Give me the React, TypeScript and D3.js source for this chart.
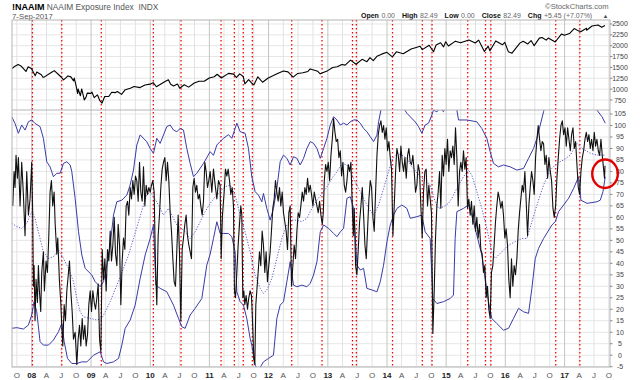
import React from "react";
import * as d3 from "d3";

// ---------- DATA ----------
const headerSymbol = "!NAAIM";
const headerName = "NAAIM Exposure Index  INDX";
const headerDate = "7-Sep-2017";
const quoteLabels = ["Open", "High", "Low", "Close", "Chg"];
const quoteValues = ["0.00", "82.49", "0.00", "82.49", "+5.45 (+7.07%)"];

const spxTicks = [750, 1000, 1250, 1500, 1750, 2000, 2250, 2500];
const naaimTicks = [-5, 0, 5, 10, 15, 20, 25, 30, 35, 40, 45, 50, 55, 60, 65, 70, 75, 80, 85, 90, 95, 100, 105];
const monthLetters: Record<number, string> = { 3: "A", 6: "J", 9: "O" };

const signalDates = [
  "2008-01-05", "2008-07-04", "2009-03-05", "2010-01-20", "2010-07-10", "2011-03-14",
  "2011-06-04", "2011-07-29", "2011-09-23", "2012-05-23", "2012-11-26", "2013-06-02",
  "2013-06-26", "2014-02-04", "2014-08-07", "2014-10-06", "2015-05-14", "2015-09-01",
  "2015-10-04", "2016-11-07", "2017-04-05",
];

const spx: [string, number][] = [
  ["2007-09-01", 1474], ["2007-09-19", 1529], ["2007-10-09", 1565], ["2007-10-26", 1535], ["2007-11-26", 1407],
  ["2007-12-10", 1515], ["2007-12-31", 1468], ["2008-01-22", 1310], ["2008-02-01", 1395], ["2008-02-29", 1330],
  ["2008-03-10", 1273], ["2008-03-17", 1276], ["2008-04-30", 1385], ["2008-05-19", 1426], ["2008-06-30", 1280],
  ["2008-07-15", 1214], ["2008-07-31", 1267], ["2008-08-11", 1305], ["2008-08-29", 1283], ["2008-09-15", 1192],
  ["2008-09-19", 1255], ["2008-09-29", 1106], ["2008-10-10", 899], ["2008-10-13", 1003], ["2008-10-27", 848],
  ["2008-11-04", 1005], ["2008-11-20", 752], ["2008-12-01", 816], ["2008-12-08", 909], ["2008-12-31", 903],
  ["2009-01-06", 935], ["2009-01-20", 805], ["2009-02-09", 870], ["2009-02-23", 743], ["2009-03-09", 677],
  ["2009-03-26", 832], ["2009-04-20", 832], ["2009-05-08", 929], ["2009-05-29", 919], ["2009-06-12", 946],
  ["2009-07-08", 880], ["2009-07-31", 987], ["2009-08-31", 1021], ["2009-09-23", 1061], ["2009-10-30", 1036],
  ["2009-11-30", 1096], ["2009-12-31", 1115], ["2010-01-19", 1150], ["2010-02-08", 1056], ["2010-03-31", 1169],
  ["2010-04-23", 1217], ["2010-05-07", 1111], ["2010-05-25", 1074], ["2010-06-18", 1117], ["2010-07-02", 1022],
  ["2010-07-30", 1102], ["2010-08-26", 1047], ["2010-09-30", 1141], ["2010-10-29", 1183], ["2010-11-30", 1181],
  ["2010-12-31", 1258], ["2011-01-31", 1286], ["2011-02-18", 1343], ["2011-03-16", 1257], ["2011-04-29", 1364],
  ["2011-05-31", 1345], ["2011-06-16", 1268], ["2011-07-07", 1353], ["2011-07-29", 1292], ["2011-08-08", 1119],
  ["2011-08-31", 1219], ["2011-09-22", 1129], ["2011-10-03", 1099], ["2011-10-27", 1285], ["2011-11-25", 1159],
  ["2011-12-30", 1258], ["2012-01-31", 1312], ["2012-02-29", 1366], ["2012-04-02", 1419], ["2012-04-30", 1398],
  ["2012-06-01", 1278], ["2012-06-29", 1362], ["2012-07-31", 1379], ["2012-08-31", 1407], ["2012-09-14", 1466],
  ["2012-10-31", 1412], ["2012-11-15", 1353], ["2012-12-31", 1426], ["2013-01-31", 1498], ["2013-02-28", 1515],
  ["2013-03-28", 1569], ["2013-04-18", 1553], ["2013-05-21", 1669], ["2013-06-24", 1573], ["2013-07-31", 1686],
  ["2013-08-30", 1633], ["2013-09-18", 1725], ["2013-10-08", 1656], ["2013-10-31", 1757], ["2013-11-29", 1806],
  ["2013-12-31", 1848], ["2014-02-03", 1742], ["2014-02-28", 1859], ["2014-04-11", 1815], ["2014-05-30", 1924],
  ["2014-06-30", 1960], ["2014-07-24", 1988], ["2014-08-07", 1910], ["2014-09-18", 2011], ["2014-10-15", 1862],
  ["2014-10-31", 2018], ["2014-11-28", 2068], ["2014-12-16", 1973], ["2014-12-29", 2091], ["2015-01-15", 1993],
  ["2015-02-27", 2105], ["2015-03-31", 2068], ["2015-05-21", 2131], ["2015-06-30", 2063], ["2015-07-20", 2129],
  ["2015-08-25", 1867], ["2015-09-17", 1990], ["2015-09-28", 1882], ["2015-11-03", 2110], ["2015-12-14", 2021],
  ["2015-12-29", 2078], ["2016-01-20", 1859], ["2016-02-11", 1829], ["2016-03-31", 2060], ["2016-04-20", 2102],
  ["2016-05-19", 2040], ["2016-06-08", 2119], ["2016-06-27", 2001], ["2016-07-29", 2174], ["2016-08-15", 2190],
  ["2016-09-09", 2128], ["2016-09-22", 2177], ["2016-11-04", 2085], ["2016-12-13", 2271], ["2016-12-30", 2239],
  ["2017-01-31", 2279], ["2017-03-01", 2396], ["2017-03-27", 2342], ["2017-04-13", 2329], ["2017-05-16", 2400],
  ["2017-05-17", 2357], ["2017-06-19", 2453], ["2017-07-26", 2478], ["2017-08-18", 2426], ["2017-09-07", 2465],
];

// [decimal year, exposure]
const naaim: [number, number][] = [
  [2007.678,65],[2007.701,80],[2007.717,73],[2007.734,87],[2007.757,77],[2007.774,86],[2007.802,65],[2007.830,84],[2007.858,70],[2007.886,52],[2007.915,80],[2007.943,61],[2007.971,68],[2007.999,84],[2008.016,61],[2008.027,30],[2008.039,39],[2008.055,15],[2008.072,33],[2008.095,23],[2008.112,39],[2008.129,28],[2008.151,19],[2008.168,36],[2008.196,45],[2008.213,28],[2008.241,41],[2008.264,36],[2008.286,51],[2008.309,71],[2008.331,76],[2008.354,65],[2008.377,71],[2008.393,58],[2008.422,44],[2008.438,51],[2008.467,32],[2008.489,23],[2008.506,13],[2008.523,4],[2008.546,22],[2008.568,15],[2008.591,28],[2008.619,36],[2008.636,41],[2008.658,28],[2008.681,19],[2008.703,7],[2008.731,10],[2008.760,-4],[2008.782,7],[2008.805,13],[2008.827,4],[2008.850,16],[2008.872,7],[2008.895,13],[2008.917,4],[2008.940,9],[2008.962,22],[2008.985,28],[2009.007,19],[2009.030,28],[2009.053,23],[2009.075,20],[2009.098,25],[2009.120,31],[2009.143,7],[2009.165,1.5],[2009.188,46],[2009.210,33],[2009.233,42],[2009.255,28],[2009.278,46],[2009.300,41],[2009.323,54],[2009.345,41],[2009.368,48],[2009.391,60],[2009.413,44],[2009.436,39],[2009.458,57],[2009.481,48],[2009.503,22],[2009.526,41],[2009.548,51],[2009.571,46],[2009.593,65],[2009.616,67],[2009.638,61],[2009.661,73],[2009.683,68],[2009.706,76],[2009.728,70],[2009.751,78],[2009.773,76],[2009.796,67],[2009.819,84],[2009.841,71],[2009.864,67],[2009.886,82],[2009.909,65],[2009.931,74],[2009.954,70],[2009.976,73],[2009.999,71],[2010.021,74],[2010.044,76],[2010.066,71],[2010.089,39],[2010.111,22],[2010.134,52],[2010.156,61],[2010.179,73],[2010.202,81],[2010.224,84],[2010.247,86],[2010.269,76],[2010.292,84],[2010.314,76],[2010.337,62],[2010.359,54],[2010.382,42],[2010.404,32],[2010.427,30],[2010.450,46],[2010.472,61],[2010.495,44],[2010.517,15],[2010.540,46],[2010.562,51],[2010.585,57],[2010.607,61],[2010.630,52],[2010.652,48],[2010.675,45],[2010.697,42],[2010.720,73],[2010.742,77],[2010.765,71],[2010.787,74],[2010.810,68],[2010.833,70],[2010.855,65],[2010.878,61],[2010.900,67],[2010.923,84],[2010.945,80],[2010.968,73],[2010.990,76],[2011.013,80],
  [2011.041,71],[2011.069,81],[2011.098,74],[2011.126,68],[2011.154,76],[2011.182,74],[2011.199,42],[2011.221,61],[2011.250,71],[2011.272,81],[2011.295,78],[2011.317,81],[2011.340,76],[2011.362,70],[2011.385,73],[2011.407,65],[2011.424,28],[2011.441,25],[2011.464,36],[2011.486,48],[2011.509,57],[2011.531,65],[2011.548,61],[2011.565,25],[2011.582,28],[2011.599,22],[2011.621,26],[2011.644,20],[2011.666,25],[2011.689,28],[2011.711,26],[2011.728,16],[2011.751,-1.5],[2011.768,-4],[2011.785,22],[2011.802,28],[2011.824,36],[2011.847,45],[2011.869,39],[2011.892,54],[2011.914,48],[2011.937,36],[2011.959,45],[2011.982,32],[2012.004,39],[2012.027,45],[2012.049,54],[2012.072,64],[2012.095,68],[2012.117,76],[2012.140,71],[2012.162,67],[2012.185,73],[2012.207,65],[2012.230,71],[2012.252,62],[2012.275,58],[2012.297,54],[2012.320,46],[2012.342,62],[2012.365,65],[2012.387,30],[2012.410,39],[2012.432,48],[2012.455,42],[2012.478,54],[2012.500,62],[2012.523,60],[2012.545,65],[2012.568,71],[2012.590,67],[2012.613,73],[2012.635,70],[2012.658,77],[2012.680,71],[2012.703,74],[2012.725,70],[2012.748,65],[2012.771,71],[2012.793,68],[2012.816,65],[2012.838,62],[2012.861,67],[2012.883,61],[2012.906,57],[2012.923,62],[2012.940,76],[2012.962,83],[2012.985,80],[2013.007,84],[2013.030,76],[2013.052,87],[2013.075,94],[2013.097,103],[2013.120,97],[2013.142,93],[2013.165,94],[2013.187,86],[2013.210,89],[2013.232,78],[2013.255,84],[2013.277,74],[2013.300,71],[2013.323,76],[2013.345,83],[2013.368,80],[2013.390,84],[2013.413,65],[2013.430,52],[2013.446,64],[2013.469,39],[2013.491,35],[2013.514,46],[2013.536,58],[2013.559,65],[2013.582,73],[2013.604,61],[2013.627,48],[2013.649,42],[2013.672,55],[2013.694,68],[2013.717,76],[2013.739,73],[2013.762,60],[2013.784,54],[2013.807,71],[2013.830,87],[2013.852,96],[2013.875,100],[2013.897,102],[2013.920,97],[2013.942,100],[2013.965,94],[2013.987,99],[2014.010,89],[2014.032,93],[2014.055,86],[2014.077,81],[2014.100,52],[2014.122,65],[2014.145,80],[2014.167,90],[2014.190,87],[2014.213,80],[2014.235,91],[2014.258,84],[2014.280,80],[2014.303,86],[2014.325,77],[2014.348,87],[2014.370,90],[2014.393,84],
  [2014.415,83],[2014.437,87],[2014.460,80],[2014.482,71],[2014.505,74],[2014.527,83],[2014.550,80],[2014.572,65],[2014.595,51],[2014.617,71],[2014.640,80],[2014.662,81],[2014.685,65],[2014.707,74],[2014.730,68],[2014.752,62],[2014.775,9.5],[2014.798,28],[2014.820,51],[2014.843,65],[2014.865,71],[2014.888,80],[2014.910,64],[2014.933,87],[2014.955,78],[2014.978,90],[2015.000,83],[2015.023,94],[2015.045,80],[2015.068,89],[2015.090,86],[2015.113,91],[2015.136,83],[2015.158,99],[2015.181,86],[2015.203,65],[2015.226,80],[2015.248,84],[2015.271,80],[2015.293,89],[2015.316,81],[2015.338,86],[2015.361,64],[2015.383,68],[2015.406,61],[2015.428,67],[2015.451,57],[2015.474,65],[2015.496,54],[2015.519,60],[2015.541,51],[2015.564,57],[2015.586,46],[2015.609,44],[2015.631,36],[2015.654,39],[2015.676,25],[2015.699,30],[2015.721,20],[2015.744,16],[2015.766,36],[2015.789,39],[2015.811,48],[2015.834,58],[2015.856,65],[2015.879,71],[2015.902,68],[2015.924,64],[2015.947,67],[2015.969,61],[2015.992,51],[2016.014,55],[2016.037,48],[2016.059,33],[2016.082,25],[2016.104,42],[2016.127,30],[2016.149,39],[2016.172,35],[2016.195,42],[2016.217,54],[2016.240,62],[2016.262,68],[2016.285,74],[2016.307,71],[2016.330,80],[2016.352,67],[2016.375,52],[2016.397,65],[2016.420,73],[2016.442,80],[2016.465,76],[2016.487,70],[2016.510,86],[2016.533,94],[2016.555,100],[2016.578,94],[2016.600,89],[2016.623,93],[2016.645,92],[2016.668,83],[2016.690,87],[2016.713,77],[2016.735,86],[2016.758,80],[2016.780,76],[2016.803,64],[2016.825,60],[2016.848,65],[2016.870,77],[2016.893,86],[2016.915,94],[2016.938,100],[2016.961,102],[2016.983,96],[2017.006,99],[2017.028,91],[2017.051,99],[2017.073,94],[2017.096,89],[2017.118,96],[2017.141,99],[2017.163,90],[2017.186,93],[2017.208,83],[2017.231,73],[2017.253,70],[2017.276,80],[2017.299,86],[2017.321,89],[2017.344,94],[2017.366,97],[2017.389,93],[2017.411,96],[2017.434,90],[2017.456,94],[2017.479,89],[2017.501,97],[2017.524,91],[2017.546,94],[2017.569,89],[2017.591,87],[2017.614,94],[2017.636,87],[2017.659,81],[2017.674,77],[2017.683,82.5],
];

const upperBand: [number, number][] = [
  [2007.661,103.8],[2007.717,100.9],[2007.774,96.6],[2007.830,100.2],[2007.887,98],[2007.943,101.6],[2007.999,102.4],[2008.055,100.9],[2008.140,99.5],[2008.196,94.4],[2008.253,84.2],[2008.309,82],[2008.365,77.7],[2008.422,79.2],[2008.478,79.2],[2008.534,83.5],[2008.591,84.2],[2008.647,82.8],[2008.675,79.9],[2008.731,68.3],[2008.788,53.8],[2008.844,43.6],[2008.900,37.8],[2009.013,34.9],[2009.069,32],[2009.154,29.8],[2009.210,32],[2009.266,39.2],[2009.323,48],[2009.379,61],[2009.435,66.8],[2009.520,67.5],[2009.604,69.7],[2009.661,74.1],[2009.717,80.6],[2009.773,91.5],[2009.830,95.9],[2009.942,92.9],[2009.999,90],[2010.055,87.9],[2010.111,94.4],[2010.168,92.2],[2010.224,95.9],[2010.280,99.5],[2010.337,100.2],[2010.393,98],[2010.449,97.3],[2010.506,98.7],[2010.562,98],[2010.618,90],[2010.675,83.5],[2010.731,77.7],[2010.787,79.2],[2010.900,83.5],[2011.013,88.6],
  [2011.069,87],[2011.126,91.5],[2011.182,93],[2011.238,94.4],[2011.323,96],[2011.379,94.4],[2011.435,98.7],[2011.464,101],[2011.520,97.3],[2011.604,96.6],[2011.661,90],[2011.717,77.7],[2011.773,71.2],[2011.830,69.7],[2011.886,66.8],[2011.914,70.4],[2011.971,63.9],[2012.027,58.8],[2012.083,63.9],[2012.140,72.6],[2012.196,84.2],[2012.252,87.1],[2012.309,85.7],[2012.365,82.8],[2012.421,86.4],[2012.478,85.7],[2012.534,82.8],[2012.590,85.7],[2012.646,90],[2012.703,93],[2012.759,92.2],[2012.816,90],[2012.872,85.7],[2012.928,90],[2012.985,94.4],[2013.041,100.2],[2013.097,103.8],[2013.154,102.4],[2013.210,100.2],[2013.266,101],[2013.323,100.2],[2013.379,101.6],[2013.435,102.4],[2013.492,102.4],[2013.548,101],[2013.604,98.7],[2013.660,97.3],[2013.717,95.1],[2013.773,93],[2013.830,95.8],[2013.858,101.6],[2013.897,106.7],[2013.970,112],[2014.168,112],[2014.336,105.3],[2014.393,103.8],
  [2014.476,101.6],[2014.533,99.5],[2014.589,96.6],[2014.645,100.2],[2014.702,101],[2014.758,104.5],[2014.786,106.7],[2014.843,106],[2014.899,107.4],[2014.955,106],[2015.012,110.4],[2015.124,110.4],[2015.181,106.7],[2015.209,102.4],[2015.350,102.4],[2015.519,101.6],[2015.603,98.7],[2015.688,94.4],[2015.744,88.6],[2015.800,83.5],[2015.885,82],[2015.969,82.8],[2016.082,82],[2016.195,80.6],[2016.307,81.3],[2016.392,85.7],[2016.476,90],[2016.533,94.4],[2016.589,100.2],[2016.645,106],[2016.702,112],[2017.490,112],[2017.546,106.7],[2017.631,103.8],[2017.687,101],
];

const middleBand: [number, number][] = [
  [2007.661,57.4],[2007.746,56],[2007.830,55.2],[2007.915,57.4],[2007.999,62.5],[2008.055,59.6],[2008.140,50.8],[2008.196,45],[2008.281,42.1],[2008.365,42.9],[2008.450,45.8],[2008.534,42.1],[2008.619,37.8],[2008.703,32],[2008.760,24.7],[2008.816,18.9],[2008.872,16.7],[2008.985,16],[2009.098,15.3],[2009.182,16],[2009.238,18.9],[2009.323,23.3],[2009.436,30.5],[2009.548,37.8],[2009.633,43.6],[2009.717,50.8],[2009.802,58.1],[2009.886,65.4],[2009.942,69.7],[2009.999,71.2],[2010.055,69],[2010.140,65.4],[2010.224,61],[2010.309,63.9],[2010.393,59.6],[2010.450,56.7],[2010.534,55.2],[2010.590,53.7],[2010.675,50.8],[2010.759,53.7],[2010.844,58.1],[2010.928,62.5],[2011.013,66],
  [2011.097,69],[2011.182,71.2],[2011.266,73.3],[2011.351,74.1],[2011.435,69.7],[2011.520,61],[2011.604,53.7],[2011.689,45],[2011.773,34.9],[2011.858,29.1],[2011.914,26.9],[2011.971,28.4],[2012.055,33.4],[2012.140,42.1],[2012.224,50.8],[2012.309,56.7],[2012.393,58.8],[2012.478,58.8],[2012.562,58.1],[2012.646,59.6],[2012.731,63.9],[2012.816,67.5],[2012.900,70.4],[2012.985,73.3],[2013.069,77],[2013.154,79.9],[2013.238,83.5],[2013.323,82.8],[2013.379,79.9],[2013.435,77],[2013.520,72.6],[2013.604,68.3],[2013.689,63.9],[2013.773,61],[2013.858,65.4],[2013.942,72.6],[2014.027,79.9],[2014.083,85],[2014.168,87.9],[2014.252,87.1],[2014.336,85.7],[2014.421,82],
  [2014.561,77.7],[2014.730,74.1],[2014.815,66.8],[2014.871,63.9],[2014.955,64.6],[2015.040,66.1],[2015.096,68.3],[2015.181,72.6],[2015.293,77.7],[2015.378,80.6],[2015.434,78.4],[2015.519,71.2],[2015.603,63.9],[2015.688,55.2],[2015.772,45],[2015.828,42.1],[2015.941,45],[2016.054,47.9],[2016.166,49.4],[2016.279,50.8],[2016.364,50.8],[2016.448,58.1],[2016.533,65.4],[2016.645,74.1],[2016.758,80.6],[2016.870,83.5],[2016.983,85],[2017.096,87.1],[2017.209,92.2],[2017.293,90],[2017.434,87.9],[2017.546,87.1],[2017.687,87.1],
];

const lowerBand: [number, number][] = [
  [2007.661,11.7],[2007.746,12],[2007.858,11.4],[2007.943,13.1],[2007.999,17.5],[2008.039,23.3],[2008.084,18.9],[2008.140,5.9],[2008.196,4.4],[2008.281,4.4],[2008.365,6.6],[2008.450,10.2],[2008.506,13.8],[2008.546,5.9],[2008.602,-1.4],[2008.675,-3.6],[2008.760,-3.6],[2008.844,-2.9],[2008.929,-2.9],[2009.041,0],[2009.154,1.5],[2009.210,-2.9],[2009.266,-3.6],[2009.379,-2.9],[2009.464,-1.4],[2009.520,4.4],[2009.576,11.7],[2009.661,15.3],[2009.745,21.8],[2009.830,33.4],[2009.914,43.6],[2009.999,50.8],[2010.055,56.7],[2010.095,30.5],[2010.168,29.1],[2010.280,27.6],[2010.393,21.8],[2010.478,16],[2010.534,12.4],[2010.590,11.7],[2010.675,17.5],[2010.759,20.4],[2010.872,24.7],[2010.956,39.2],[2011.013,44],
  [2011.069,50.8],[2011.126,58.1],[2011.182,53],[2011.238,53],[2011.323,53],[2011.379,51.6],[2011.435,45],[2011.464,27.6],[2011.520,23.3],[2011.576,21.8],[2011.632,16],[2011.689,7.3],[2011.717,4.4],[2011.745,0],[2011.773,-4.3],[2011.830,-6.5],[2011.914,-2.9],[2011.999,-1.4],[2012.083,0],[2012.140,16],[2012.196,21.8],[2012.252,23.3],[2012.309,32],[2012.365,40.7],[2012.421,30.5],[2012.478,29.8],[2012.562,30.5],[2012.646,29.8],[2012.703,31.3],[2012.759,34.9],[2012.816,40.7],[2012.872,53.7],[2012.928,56.7],[2013.013,55.2],[2013.097,53],[2013.154,51.6],[2013.210,53.7],[2013.266,55.2],[2013.323,68.3],[2013.379,69],[2013.435,63.9],[2013.492,39.2],[2013.548,37.1],[2013.604,37.8],[2013.660,29.1],[2013.745,28.4],[2013.830,27.6],[2013.886,32],[2013.942,39.2],[2013.999,49.4],[2014.055,56.7],[2014.111,61],[2014.168,63.9],[2014.252,65.4],[2014.336,63.9],[2014.393,59.6],
  [2014.505,60.3],[2014.589,61],[2014.645,53.7],[2014.730,50.8],[2014.775,24.7],[2014.843,22.5],[2014.955,23.3],[2015.068,24.7],[2015.124,26.2],[2015.152,50.8],[2015.181,62.5],[2015.293,63.9],[2015.378,65.4],[2015.434,61],[2015.519,52.3],[2015.603,43.6],[2015.659,33.4],[2015.716,23.3],[2015.772,16],[2015.856,13.8],[2015.969,10.9],[2016.054,11.7],[2016.138,16],[2016.223,20.4],[2016.307,18.9],[2016.392,18.2],[2016.448,29.1],[2016.505,42.1],[2016.561,46.5],[2016.645,50.8],[2016.786,56.7],[2016.842,58.1],[2016.899,62.5],[2016.983,65.4],[2017.068,68.3],[2017.152,72.6],[2017.237,77.7],[2017.276,67.5],[2017.378,66.1],[2017.546,66.8],[2017.603,67.5],[2017.648,71.2],[2017.687,77.7],
];

// annotation: circle around latest reading
const highlightYear = 2017.683;
const highlightValue = 79;

// ---------- HELPERS ----------
function decYear(y: number): Date {
  const yr = Math.floor(y);
  const s = new Date(yr, 0, 1).getTime();
  const e = new Date(yr + 1, 0, 1).getTime();
  return new Date(s + (y - yr) * (e - s));
}
const parse = d3.timeParse("%Y-%m-%d");

const W = 640, H = 380;
const L = 12, R = 610;
const T1 = 20, B1 = 110, T2 = 110, B2 = 367;
const FONT = "Liberation Sans, Arial, Helvetica, sans-serif";

export default function App() {
  const x = d3.scaleTime().domain([new Date(2007, 8, 1), new Date(2017, 9, 8)]).range([L, R]);
  const y1 = d3.scaleLinear().domain([520, 2592]).range([B1, T1]);
  const y2 = d3.scaleLinear().domain([-5.13, 106.74]).range([B2, T2]);

  const spxLine = d3.line<[string, number]>().x(d => x(parse(d[0]) as Date)).y(d => y1(d[1]));
  const yrLine = d3.line<[number, number]>().x(d => x(decYear(d[0]))).y(d => y2(d[1]));

  const quarters = d3.timeMonth.every(3)!.range(new Date(2007, 8, 1), new Date(2017, 9, 8));

  return (
    <svg width={W} height={H} style={{ position: "absolute", left: 0, top: 0, background: "#fff" }} fontFamily={FONT}>
      <defs>
        <clipPath id="c1"><rect x={L} y={T1} width={R - L} height={B1 - T1} /></clipPath>
        <clipPath id="c2"><rect x={L} y={T2} width={R - L} height={B2 - T2} /></clipPath>
      </defs>
      <rect x={0} y={0} width={W} height={H} fill="#fff" />

      {/* header */}
      <text x={12} y={9.5} fontSize={9} fontWeight="bold" fill="#000">{headerSymbol}</text>
      <text x={46.7} y={9.5} fontSize={8.4} fill="#555" style={{ whiteSpace: "pre" }}>{headerName}</text>
      <text x={12} y={18.5} fontSize={7.8} fill="#555">{headerDate}</text>
      <text x={608.5} y={8.6} fontSize={7.6} fill="#666" textAnchor="end">©StockCharts.com</text>
      <text x={361} y={18.3} fontSize={7} fill="#666">
        {quoteLabels.map((q, i) => (
          <React.Fragment key={q}>
            <tspan dx={i === 0 ? 0 : 7} fontWeight="bold" fill="#111">{q}</tspan>
            <tspan dx={2.5}>{quoteValues[i]}</tspan>
          </React.Fragment>
        ))}
      </text>
      <text x={605.5} y={18} fontSize={5.5} fill="#444" textAnchor="middle">▲</text>

      {/* grid */}
      {spxTicks.map(t => (
        <line key={"g1" + t} x1={L} x2={R} y1={y1(t)} y2={y1(t)} stroke="#e6e6e6" strokeWidth={1} />
      ))}
      {naaimTicks.map(t => (
        <line key={"g2" + t} x1={L} x2={R} y1={y2(t)} y2={y2(t)} stroke="#e6e6e6" strokeWidth={1} />
      ))}
      {quarters.map(d => (
        <line key={"v" + d.getTime()} x1={x(d)} x2={x(d)} y1={T1} y2={B2}
          stroke={d.getMonth() === 0 ? "#c4c4c4" : "#e2e2e2"} strokeWidth={1} />
      ))}

      {/* signal lines */}
      {signalDates.map(s => {
        const xx = x(parse(s) as Date);
        return <line key={s} x1={xx} x2={xx} y1={T1} y2={B2} stroke="#ff0000" strokeWidth={1.3} strokeDasharray="1.6,2.4" />;
      })}

      {/* top panel: S&P 500 */}
      <g clipPath="url(#c1)">
        <path d={spxLine(spx) || ""} fill="none" stroke="#000" strokeWidth={1.1} strokeLinejoin="round" />
      </g>

      {/* bottom panel */}
      <g clipPath="url(#c2)">
        <path d={yrLine(middleBand) || ""} fill="none" stroke="#5a5ad0" strokeWidth={1} strokeDasharray="1.2,1.6" />
        <path d={yrLine(upperBand) || ""} fill="none" stroke="#3a3aa8" strokeWidth={1} />
        <path d={yrLine(lowerBand) || ""} fill="none" stroke="#3a3aa8" strokeWidth={1} />
        <path d={yrLine(naaim) || ""} fill="none" stroke="#111" strokeWidth={1.1} strokeLinejoin="round" />
      </g>

      {/* frame */}
      <rect x={L} y={T1} width={R - L} height={B2 - T1} fill="none" stroke="#b4b4b4" strokeWidth={1} />
      <line x1={L} x2={R} y1={B1} y2={B1} stroke="#b4b4b4" strokeWidth={1} />

      {/* right axes */}
      {spxTicks.map(t => (
        <g key={"t1" + t}>
          <line x1={R} x2={R + 2.5} y1={y1(t)} y2={y1(t)} stroke="#888" />
          <text x={620} y={y1(t) + 2.5} fontSize={7} fill="#444" textAnchor="middle">{t}</text>
        </g>
      ))}
      {naaimTicks.map(t => (
        <g key={"t2" + t}>
          <line x1={R} x2={R + 2.5} y1={y2(t)} y2={y2(t)} stroke="#888" />
          <text x={620} y={y2(t) + 2.5} fontSize={7} fill="#444" textAnchor="middle">{t}</text>
        </g>
      ))}

      {/* bottom axis labels */}
      {quarters.map(d => {
        const m = d.getMonth();
        const isYear = m === 0;
        const label = isYear ? d3.timeFormat("%y")(d) : monthLetters[m];
        return (
          <text key={"l" + d.getTime()} x={x(d)} y={377.5} fontSize={8} textAnchor="middle"
            fontWeight={isYear ? "bold" : "normal"} fill={isYear ? "#222" : "#555"}>{label}</text>
        );
      })}

      {/* highlight circle */}
      <ellipse cx={x(decYear(highlightYear))} cy={y2(highlightValue)} rx={12.8} ry={14.2}
        fill="none" stroke="#e00000" strokeWidth={2.4} />
    </svg>
  );
}
